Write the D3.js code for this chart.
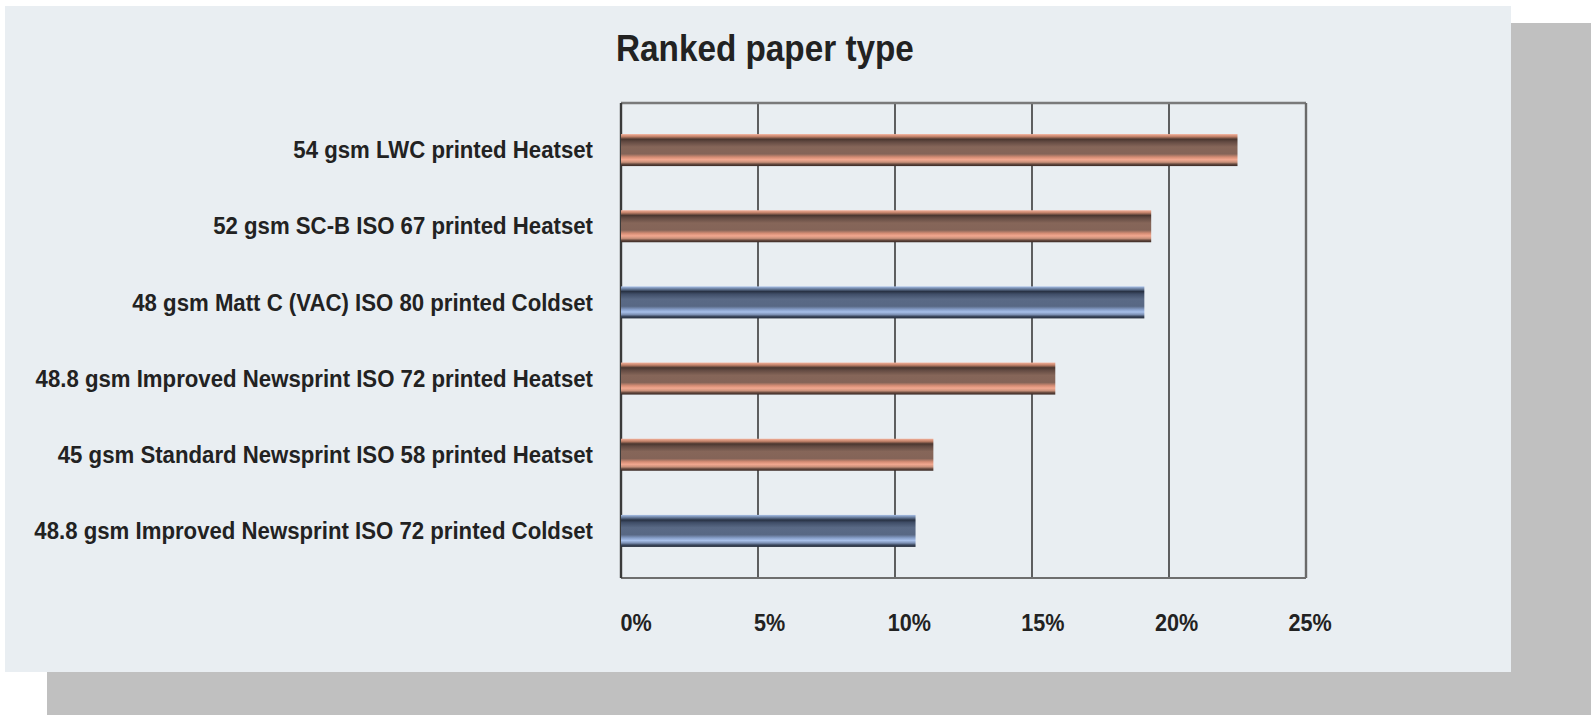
<!DOCTYPE html>
<html>
<head>
<meta charset="utf-8">
<script src="https://cdn.jsdelivr.net/npm/d3@7"></script>
<style>
  body { margin: 0; background: #fff; }
  svg { display: block; }
  text { font-family: "Liberation Sans Narrow", "Liberation Sans", Arial, sans-serif; font-weight: bold; }
</style>
</head>
<body>
<svg id="chart" width="1591" height="715"></svg>
<script>
// chart data
const categories = [
  '54 gsm LWC printed Heatset',
  '52 gsm SC-B ISO 67 printed Heatset',
  '48 gsm Matt C (VAC) ISO 80 printed Coldset',
  '48.8 gsm Improved Newsprint ISO 72 printed Heatset',
  '45 gsm Standard Newsprint ISO 58 printed Heatset',
  '48.8 gsm Improved Newsprint ISO 72 printed Coldset'
];
const values = [22.5, 19.35, 19.1, 15.85, 11.4, 10.75];
const process = ['Heatset', 'Heatset', 'Coldset', 'Heatset', 'Heatset', 'Coldset'];
const tickValues = [0, 5, 10, 15, 20, 25];
const title = 'Ranked paper type';

const svg = d3.select('#chart');

// drop shadow + panel
svg.append('rect').attr('x', 47).attr('y', 23).attr('width', 1544).attr('height', 692).attr('fill', '#c0c0c0');
svg.append('rect').attr('x', 5).attr('y', 6).attr('width', 1506).attr('height', 666).attr('fill', '#e9eef2');

// bar gradients (tube look)
const defs = svg.append('defs');
const gradStops = {
  Heatset: ['#f4b09a', '#c08068', '#4a362f', '#634a42', '#866659', '#846458', '#d48c74', '#f2a890', '#c8907a', '#64483e', '#382824'],
  Coldset: ['#a8c0e8', '#687c9c', '#283244', '#404e68', '#5a6a86', '#586884', '#869ec8', '#a8c0ea', '#7c90b4', '#3a465c', '#242c3a']
};
const stopOffsets = [0, 8, 16, 24, 40, 62, 72, 80, 88, 94, 100];
Object.keys(gradStops).forEach(k => {
  const g = defs.append('linearGradient').attr('id', 'grad-' + k)
    .attr('x1', 0).attr('y1', 0).attr('x2', 0).attr('y2', 1);
  gradStops[k].forEach((c, i) => g.append('stop').attr('offset', stopOffsets[i] + '%').attr('stop-color', c));
});

const plot = { left: 621, right: 1306, top: 103, bottom: 578 };

const x = d3.scaleLinear().domain([0, 25]).range([plot.left, plot.right]);
const y = d3.scaleBand().domain(categories).range([112, 569])
  .paddingInner(0.58).paddingOuter(0.29);

// gridlines
svg.append('g')
  .selectAll('line')
  .data(tickValues.slice(1, -1))
  .join('line')
  .attr('x1', d => x(d)).attr('x2', d => x(d))
  .attr('y1', plot.top).attr('y2', plot.bottom)
  .attr('stroke', '#3a3a3a').attr('stroke-width', 1.6);

// frame: top/right lighter, left/bottom dark
svg.append('line').attr('x1', plot.left).attr('x2', plot.right).attr('y1', plot.top).attr('y2', plot.top)
  .attr('stroke', '#7a7a7a').attr('stroke-width', 2.4);
svg.append('line').attr('x1', plot.right).attr('x2', plot.right).attr('y1', plot.top).attr('y2', plot.bottom)
  .attr('stroke', '#6a6a6a').attr('stroke-width', 2.4);
svg.append('line').attr('x1', plot.left).attr('x2', plot.right).attr('y1', plot.bottom).attr('y2', plot.bottom)
  .attr('stroke', '#6e6e6e').attr('stroke-width', 2);
svg.append('line').attr('x1', plot.left).attr('x2', plot.left).attr('y1', plot.top).attr('y2', plot.bottom)
  .attr('stroke', '#3a3a3a').attr('stroke-width', 2.4);

// bars
svg.append('g')
  .selectAll('rect')
  .data(categories)
  .join('rect')
  .attr('x', x(0))
  .attr('y', d => y(d))
  .attr('width', (d, i) => x(values[i]) - x(0))
  .attr('height', y.bandwidth())
  .attr('fill', (d, i) => `url(#grad-${process[i]})`);

// category labels (condensed look: horizontally squeezed)
const yAxis = svg.append('g')
  .attr('transform', `translate(${plot.left - 28},0)`)
  .call(d3.axisLeft(y).tickSize(0).tickPadding(0));
yAxis.select('.domain').remove();
yAxis.selectAll('text')
  .attr('x', 0).attr('dy', '0.34em')
  .attr('font-size', 24).attr('fill', '#222')
  .attr('transform', 'scale(0.925,1)');

// x tick labels (printed slightly tighter than the grid)
const xLab = d3.scaleLinear().domain([0, 25]).range([620, 1288]);
const xAxis = svg.append('g')
  .attr('transform', `translate(0,631)`)
  .call(d3.axisBottom(xLab).tickValues(tickValues).tickSize(0).tickPadding(0).tickFormat(d => d + '%'));
xAxis.select('.domain').remove();
xAxis.selectAll('text')
  .attr('text-anchor', 'start').attr('y', 0).attr('dy', 0)
  .attr('font-size', 24).attr('fill', '#222')
  .attr('transform', 'scale(0.9,1)');

// title
svg.append('g').attr('transform', 'translate(616,61) scale(0.9,1)')
  .append('text')
  .attr('font-size', 37).attr('fill', '#222')
  .text(title);
</script>
</body>
</html>
